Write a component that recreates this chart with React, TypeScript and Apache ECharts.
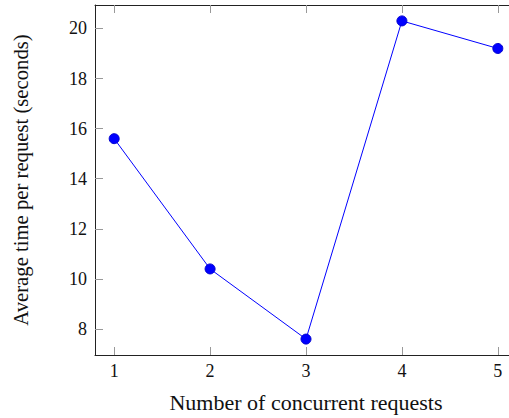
import React, { useEffect, useRef } from "react";
import * as echarts from "echarts";

const concurrentRequests = [1, 2, 3, 4, 5];
const avgTimeSeconds = [15.6, 10.4, 7.6, 20.3, 19.2];
const xTicks = [1, 2, 3, 4, 5];
const yTicks = [8, 10, 12, 14, 16, 18, 20];

const FONT = "Liberation Serif";

export default function App() {
  const ref = useRef<HTMLDivElement>(null);
  useEffect(() => {
    if (!ref.current) return;
    const chart = echarts.init(ref.current, null, { renderer: "svg" });
    const axisLine = { show: true, onZero: false, lineStyle: { color: "#222", width: 1 } };
    const tick = (vals: number[]) => ({
      show: true,
      inside: true,
      length: 8,
      lineStyle: { color: "#999", width: 1 },
      customValues: vals,
    });
    const xBase = { type: "value" as const, min: 0.8, max: 5.2, splitLine: { show: false }, axisLine };
    const yBase = { type: "value" as const, min: 6.965, max: 20.935, splitLine: { show: false }, axisLine };
    chart.setOption({
      animation: false,
      grid: { left: 95, top: 5, width: 422, height: 350.5, containLabel: false },
      xAxis: [
        {
          ...xBase,
          position: "bottom",
          axisTick: tick(xTicks),
          axisLabel: { customValues: xTicks, color: "#111", fontFamily: FONT, fontSize: 18, margin: 7 },
          name: "Number of concurrent requests",
          nameLocation: "middle",
          nameGap: 36,
          nameTextStyle: { color: "#111", fontFamily: FONT, fontSize: 22 },
        },
        {
          ...xBase,
          position: "top",
          axisTick: tick(xTicks),
          axisLabel: { show: false },
        },
      ],
      yAxis: [
        {
          ...yBase,
          position: "left",
          axisTick: tick(yTicks),
          axisLabel: { customValues: yTicks, color: "#111", fontFamily: FONT, fontSize: 18, margin: 8 },
          name: "Average time per request (seconds)",
          nameLocation: "middle",
          nameGap: 64,
          nameTextStyle: { color: "#111", fontFamily: FONT, fontSize: 20.7 },
        },
        {
          ...yBase,
          position: "right",
          axisTick: tick(yTicks),
          axisLabel: { show: false },
        },
      ],
      series: [
        {
          type: "line",
          data: concurrentRequests.map((x, i) => [x, avgTimeSeconds[i]]),
          symbol: "circle",
          symbolSize: 10,
          lineStyle: { color: "#0000ff", width: 1 },
          itemStyle: { color: "#0000ff", borderColor: "#0000d0", borderWidth: 1 },
        },
      ],
    });
    return () => chart.dispose();
  }, []);
  return (
    <div
      ref={ref}
      style={{ position: "fixed", left: 0, top: 0, width: 530, height: 418, background: "#fff" }}
    />
  );
}
